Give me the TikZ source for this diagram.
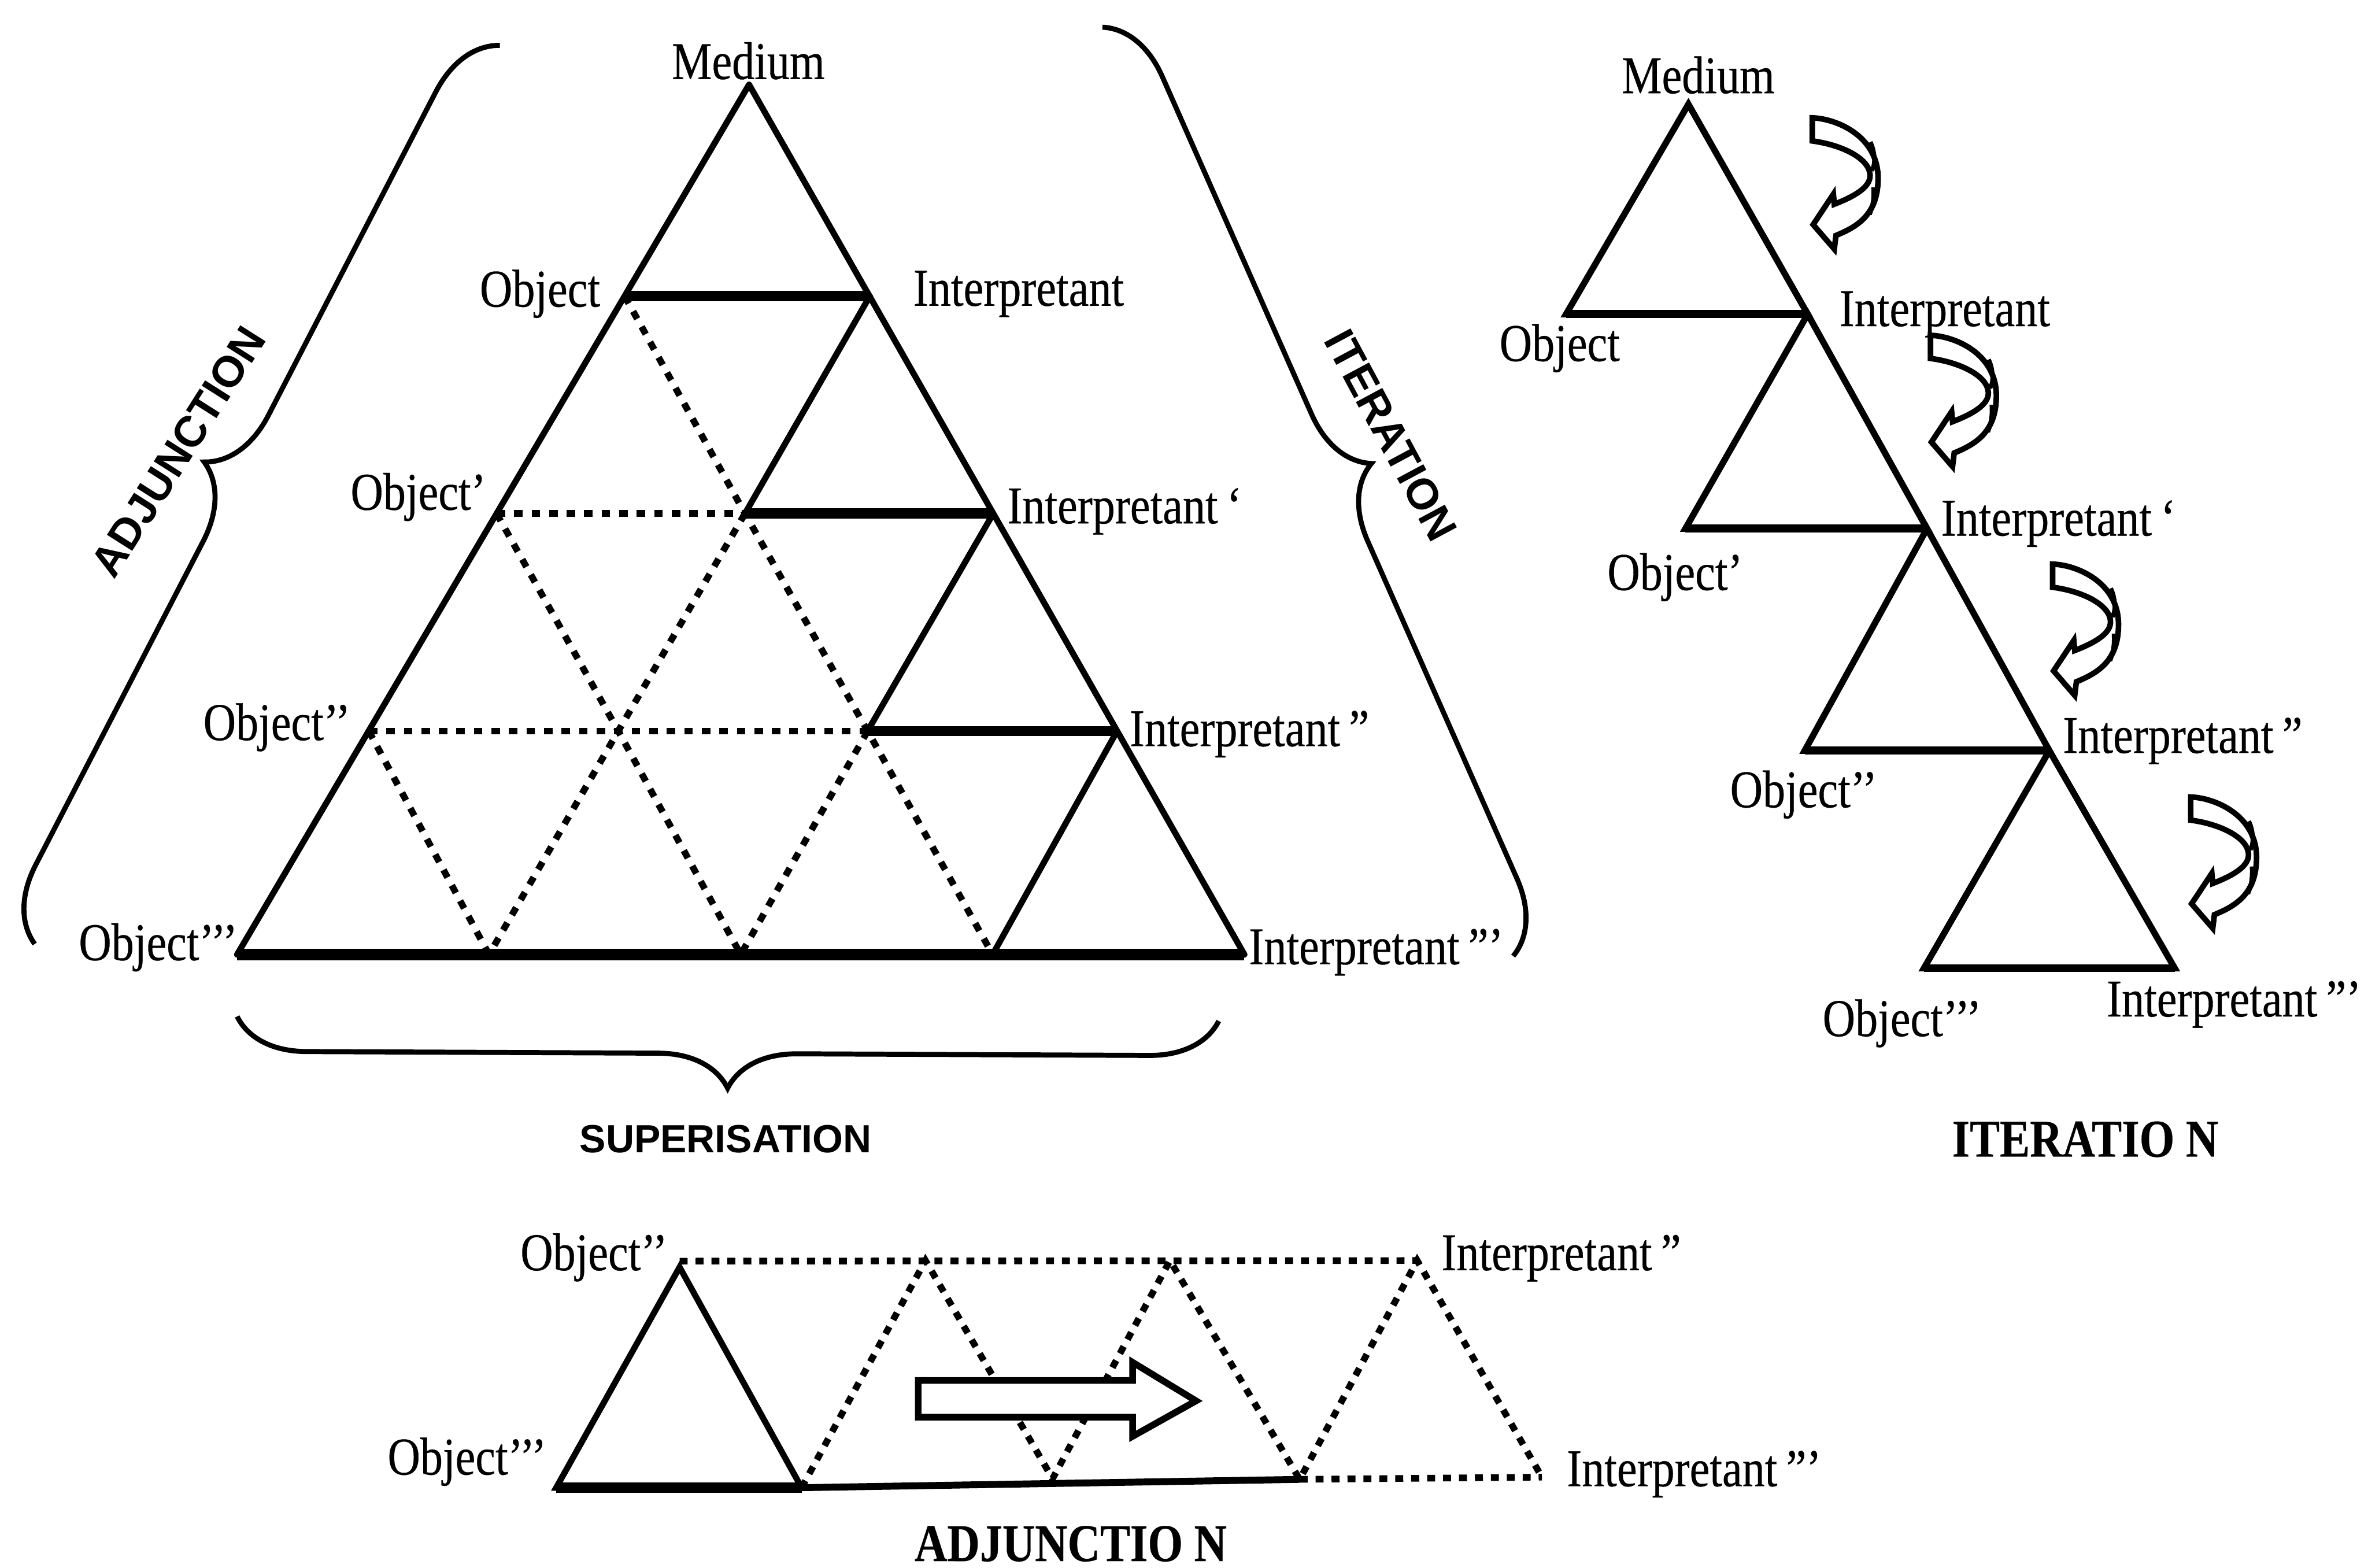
\documentclass[tikz,border=0pt]{standalone}
\usepackage{fontspec}
\setmainfont{Liberation Serif}
\newfontfamily\labfont[FakeStretch=0.85, FakeBold=0.35]{Liberation Serif}
\newfontfamily\sanslabfont{Liberation Sans}
\usetikzlibrary{decorations.pathreplacing}
\tikzset{
  lab/.style={font={\labfont\fontsize{10}{12}\selectfont}, inner sep=0pt, outer sep=0pt},
  boldlab/.style={font={\labfont\bfseries\fontsize{10}{12}\selectfont}, inner sep=0pt, outer sep=0pt},
  sidelab/.style={font={\sanslabfont\bfseries\fontsize{8.2}{10}\selectfont}, inner sep=0pt, outer sep=0pt},
  bottomlab/.style={font={\sanslabfont\bfseries\fontsize{7.4}{9}\selectfont}, inner sep=0pt, outer sep=0pt},
  solidline/.style={line width=1.15pt, line cap=round, line join=round},
  heavyline/.style={line width=1.9pt},
  dotline/.style={line width=1.25pt, dash pattern=on 1.6pt off 1.7pt},
  adjdot/.style={line width=1.25pt, dash pattern=on 1.5pt off 1.5pt},
  bracedraw/.style={decorate, decoration={brace, amplitude=0.47cm}, line width=0.95pt},
  hollow/.style={line width=1.05pt, line join=miter, fill=white},
  curvarrow/.pic={
    \draw[hollow] (0,0) .. controls (16,0.5) and (43.6,12) .. (43.6,40)
      .. controls (43.6,64) and (30,72) .. (15.7,77.9) -- (14.6,86.9) -- (0.6,70.7)
      -- (14,50.5) -- (14.6,57.2) .. controls (28,52) and (38.5,46) .. (38.3,38)
      .. controls (38,27) and (20,18) .. (0,15.3) -- cycle;
    \draw[line width=0.8pt] (38.5,16) .. controls (41.5,22) and (42,30) .. (39.5,35);
    \draw[line width=0.8pt] (40.5,46) .. controls (41,53) and (40,59) .. (38,64);
  }
}
\begin{document}
\begin{tikzpicture}[x=0.01cm, y=-0.01cm]
\fill[white] (0,0) rectangle (1568,1038);
\useasboundingbox (0,0) rectangle (1568,1038);

% ---------------- main triangle (superisation) ----------------
\coordinate (A) at (496,56);
\coordinate (P10) at (413.6,196); \coordinate (P11) at (576,196);
\coordinate (P20) at (328.8,340); \coordinate (P21) at (493.3,340); \coordinate (P22) at (657.7,340);
\coordinate (P30) at (244.2,484); \coordinate (P31) at (409.4,484); \coordinate (P32) at (574.5,484); \coordinate (P33) at (739.7,484);
\coordinate (P40) at (157,632); \coordinate (P41) at (323.8,632); \coordinate (P42) at (490.5,632); \coordinate (P43) at (657.3,632); \coordinate (P44) at (824,632);

% dotted grid
\draw[dotline] (P20) -- (P21);
\draw[dotline] (P30) -- (P32);
\draw[dotline] (P10) -- (P21) -- (P32) -- (P43);
\draw[dotline] (P20) -- (P31) -- (P42);
\draw[dotline] (P30) -- (P41);
\draw[dotline] (P21) -- (P31) -- (P41);
\draw[dotline] (P32) -- (P42);

% solid lines
\draw[solidline] (A) -- (P40) -- (P44) -- cycle;
\draw[solidline] (P11) -- (P21);
\draw[solidline] (P22) -- (P32);
\draw[solidline] (P33) -- (P43);
\draw[heavyline] (P10) -- (P11);
\draw[heavyline] (P21) -- (P22);
\draw[heavyline] (P32) -- (P33);
\draw[line width=2.1pt] (P40) -- (P44);

% labels
\node[lab, anchor=base] (mMed) at (495.5,52.3) {Medium};
\node[lab, anchor=base east] (mO0) at (397.4,203) {Object};
\node[lab, anchor=base west] (mI0) at (604.8,202.4) {Interpretant};
\node[lab, anchor=base east] (mO1) at (321.8,337.5) {Object’};
\node[lab, anchor=base west] (mI1) at (667,346.5) {Interpretant\,‘};
\node[lab, anchor=base east] (mO2) at (232,490) {Object’’};
\node[lab, anchor=base west] (mI2) at (748,494) {Interpretant\,”};
\node[lab, anchor=base east] (mO3) at (157.3,635.7) {Object’’’};
\node[lab, anchor=base west] (mI3) at (827,638.4) {Interpretant\,”’};

% braces
\coordinate (lbA) at (23,625); \coordinate (lbB) at (331,30);
\draw[bracedraw] (lbA) -- (lbB);
\coordinate (rbA) at (730,18); \coordinate (rbB) at (1002,633);
\draw[bracedraw, decoration={amplitude=0.46cm}] (rbA) -- (rbB);
\coordinate (bbA) at (807,676); \coordinate (bbB) at (157,673);
\draw[bracedraw, decoration={amplitude=0.46cm}] (bbA) -- (bbB);

\node[sidelab, rotate=57.6] (adjside) at (118,299) {ADJUNCTION};
\node[sidelab, rotate=-61.8] (itside) at (921,288) {ITERATION};
\node[bottomlab, anchor=base] (suplab) at (480.5,763) {SUPERISATION};

% ---------------- iteration ----------------
\coordinate (I0) at (1118,69);
\coordinate (O1) at (1037,208); \coordinate (I1) at (1197,208);
\coordinate (O2) at (1116,350); \coordinate (I2) at (1276,350);
\coordinate (O3) at (1195,497); \coordinate (I3) at (1357,497);
\coordinate (O4) at (1274,641); \coordinate (I4) at (1440,641);
\draw[line width=1.2pt, line join=miter] (I0) -- (O1) -- (I1) -- cycle;
\draw[line width=1.2pt, line join=miter] (I1) -- (O2) -- (I2) -- cycle;
\draw[line width=1.2pt, line join=miter] (I2) -- (O3) -- (I3) -- cycle;
\draw[line width=1.2pt, line join=miter] (I3) -- (O4) -- (I4) -- cycle;
\draw[line width=1.5pt] (O1) -- (I1) (O2) -- (I2) (O3) -- (I3) (O4) -- (I4);

\pic at (1200,78) {curvarrow};
\pic at (1278.3,222) {curvarrow};
\pic at (1359.2,373.5) {curvarrow};
\pic at (1450.6,527.7) {curvarrow};

\node[lab, anchor=base] (iMed) at (1124.5,61.7) {Medium};
\node[lab, anchor=base east] (iO0) at (1072.6,239) {Object};
\node[lab, anchor=base west] (iI0) at (1218,215.9) {Interpretant};
\node[lab, anchor=base east] (iO1) at (1154,390.6) {Object’};
\node[lab, anchor=base west] (iI1) at (1285.4,354.6) {Interpretant\,‘};
\node[lab, anchor=base east] (iO2) at (1243,534.5) {Object’’};
\node[lab, anchor=base west] (iI2) at (1366,498.5) {Interpretant\,”};
\node[lab, anchor=base east] (iO3) at (1312,686) {Object’’’};
\node[lab, anchor=base west] (iI3) at (1395,673) {Interpretant\,”’};
\node[boldlab, anchor=base] (itlab) at (1380.8,765.8) {ITERATIO N};

% ---------------- adjunction ----------------
\coordinate (J0) at (450,835);
\coordinate (Japex) at (450,839);
\coordinate (JL) at (368.3,985); \coordinate (JR) at (530.8,985);
\coordinate (Z1) at (612.8,834.6); \coordinate (Z2) at (697,979);
\coordinate (Z3) at (774.7,834.6); \coordinate (Z4) at (860.6,979.5);
\coordinate (Z5) at (938.4,834.6); \coordinate (Z6) at (1021,978);

\draw[adjdot] (J0) -- (Z5);
\draw[adjdot] (JR) -- (Z1) -- (Z2) -- (Z3) -- (Z4) -- (Z5) -- (Z6);
\draw[adjdot] (Z4) -- (Z6);
\draw[line width=1.3pt] (JR) -- (Z4);
\draw[line width=1.15pt, line join=miter] (Japex) -- (JL) -- (JR) -- cycle;
\draw[line width=2pt] (JL) -- (JR);

\draw[line width=1.25pt, line join=miter, fill=white]
  (608,914) -- (750,914) -- (750,902) -- (792,927.5) -- (750,951) -- (750,938.3) -- (608,938.3) -- cycle;

\node[lab, anchor=base east] (aO2) at (442,841) {Object’’};
\node[lab, anchor=base east] (aO3) at (361.8,976.3) {Object’’’};
\node[lab, anchor=base west] (aI2) at (954.5,841) {Interpretant\,”};
\node[lab, anchor=base west] (aI3) at (1037.5,984) {Interpretant\,”’};
\node[boldlab, anchor=base] (adlab) at (709,1033.6) {ADJUNCTIO N};
\end{tikzpicture}
\end{document}
